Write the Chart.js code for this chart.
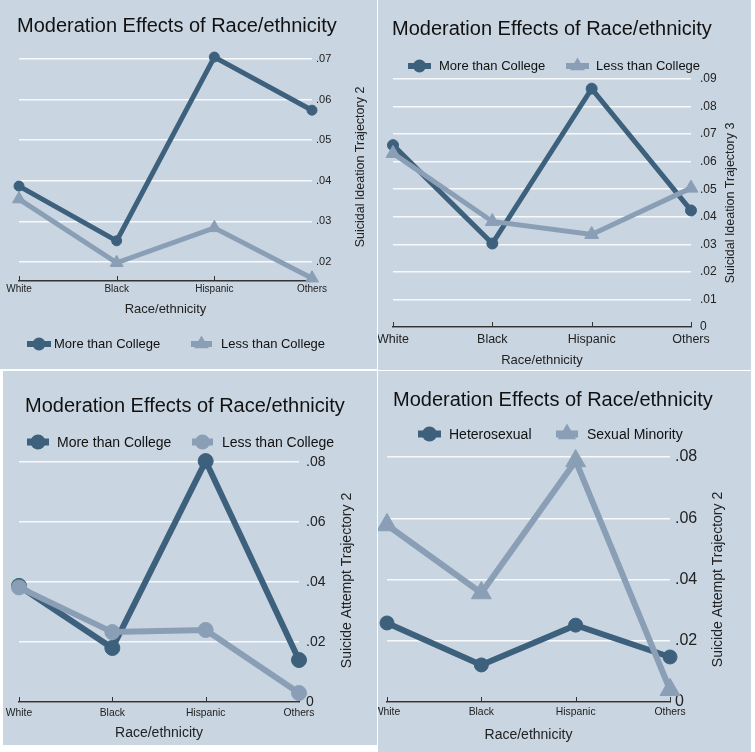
<!DOCTYPE html>
<html>
<head>
<meta charset="utf-8">
<script src="https://cdn.jsdelivr.net/npm/chart.js@4.4.1/dist/chart.umd.min.js"></script>
<style>
body { margin: 0; background: #fff; width: 755px; height: 752px; position: relative; overflow: hidden;
       font-family: "Liberation Sans", Arial, sans-serif; }
.panel { position: absolute; background: #c9d5e1; overflow: hidden; }
.panel canvas { position: absolute; left: 0; top: 0; }
.title { position: absolute; font-size: 20px; line-height: 24px; color: #111; white-space: nowrap; }
.leg-text { position: absolute; line-height: 20px; color: #111; white-space: nowrap; }
.leg-icon { position: absolute; }
</style>
</head>
<body>
<script>
const categories = ['White', 'Black', 'Hispanic', 'Others'];

// Suicidal ideation trajectory 2 (education)
const ideation2More = [0.0387, 0.0252, 0.0705, 0.0574];
const ideation2Less = [0.0355, 0.0198, 0.0284, 0.0160];
// Suicidal ideation trajectory 3 (education)
const ideation3More = [0.0660, 0.0303, 0.0865, 0.0423];
const ideation3Less = [0.0630, 0.0383, 0.0336, 0.0504];
// Suicide attempt trajectory 2 (education)
const attempt2More = [0.0387, 0.0180, 0.0803, 0.0140];
const attempt2Less = [0.0382, 0.0233, 0.0240, 0.0030];
// Suicide attempt trajectory 2 (sexual orientation)
const attempt2Hetero = [0.0258, 0.0121, 0.0251, 0.0147];
const attempt2Minority = [0.0578, 0.0356, 0.0787, 0.0040];

const ideation2Ticks = [0.02, 0.03, 0.04, 0.05, 0.06, 0.07];
const ideation3Ticks = [0, 0.01, 0.02, 0.03, 0.04, 0.05, 0.06, 0.07, 0.08, 0.09];
const attempt2Ticks = [0, 0.02, 0.04, 0.06, 0.08];

const chartTitle = 'Moderation Effects of Race/ethnicity';
const xTitle = 'Race/ethnicity';

const DARK = '#3d607c';
const LIGHT = '#8a9fb5';
const FONT = '"Liberation Sans", Arial, sans-serif';

Chart.defaults.font.family = FONT;
Chart.defaults.color = '#222';

function fmtTick(v) {
    return v === 0 ? '0' : v.toFixed(2).replace(/^0/, '');
}

// y axis title reading bottom to top, right of the plot
const yTitlePlugin = {
    id: 'yTitle',
    afterDraw(chart, args, opts) {
        const { ctx, chartArea } = chart;
        ctx.save();
        ctx.translate(chartArea.right + opts.offset, (chartArea.top + chartArea.bottom) / 2);
        ctx.rotate(-Math.PI / 2);
        ctx.font = opts.size + 'px ' + FONT;
        ctx.fillStyle = '#222';
        ctx.textAlign = 'center';
        ctx.textBaseline = 'middle';
        ctx.fillText(opts.text, 0, 0);
        ctx.restore();
    }
};

// small tick marks pointing up from the x axis line
const upTicksPlugin = {
    id: 'upTicks',
    beforeDatasetsDraw(chart) {
        const { ctx, chartArea } = chart;
        const xs = chart.scales.x;
        ctx.save();
        ctx.strokeStyle = '#333';
        ctx.lineWidth = 1;
        xs.ticks.forEach((t, i) => {
            const px = Math.round(xs.getPixelForTick(i)) + 0.5;
            ctx.beginPath();
            ctx.moveTo(px, chartArea.bottom);
            ctx.lineTo(px, chartArea.bottom - 5);
            ctx.stroke();
        });
        ctx.restore();
    }
};

const panels = [
    {
        box: { left: 0, top: 0, w: 377, h: 369 },
        title: { x: 17, cy: 25 },
        pad: { left: 19, top: 53, bottom: 50 }, yWidth: 65, xHeight: 38,
        xTickPad: 2, xTickSize: 10, xTitleSize: 13,
        yTickSize: 11, yTickPad: 4,
        yTitle: { text: 'Suicidal Ideation Trajectory 2', offset: 49, size: 12.5 },
        min: 0.0153, max: 0.0715, ticks: ideation2Ticks,
        series: [
            { label: 'More than College', data: ideation2More, color: DARK, style: 'circle', r: 5, w: 5 },
            { label: 'Less than College', data: ideation2Less, color: LIGHT, style: 'triangle', r: 7.5, w: 5 }
        ],
        legend: { cy: 344, size: 13, icons: [{ x: 27, w: 24, r: 6.5 }, { x: 191, w: 21, r: 8.5 }], text: [54, 221] }
    },
    {
        box: { left: 378, top: 0, w: 373, h: 370 },
        title: { x: 14, cy: 28 },
        pad: { left: 15, top: 79, bottom: 0 }, yWidth: 60, xHeight: 43,
        xTickPad: 5, xTickSize: 12.5, xTitleSize: 13,
        yTickSize: 12, yTickPad: 9,
        yTitle: { text: 'Suicidal Ideation Trajectory 3', offset: 40, size: 12.5 },
        min: 0, max: 0.09, ticks: ideation3Ticks,
        series: [
            { label: 'More than College', data: ideation3More, color: DARK, style: 'circle', r: 5.5, w: 5 },
            { label: 'Less than College', data: ideation3Less, color: LIGHT, style: 'triangle', r: 8, w: 5 }
        ],
        legend: { cy: 66, size: 13, icons: [{ x: 30, w: 23, r: 6.5 }, { x: 188, w: 23, r: 8.5 }], text: [61, 218] }
    },
    {
        box: { left: 3, top: 371, w: 374, h: 374 },
        title: { x: 22, cy: 34 },
        pad: { left: 16, top: 88, bottom: 1 }, yWidth: 78, xHeight: 42,
        xTickPad: 5, xTickSize: 10.3, xTitleSize: 14,
        yTickSize: 14, yTickPad: 7,
        yTitle: { text: 'Suicide Attempt Trajectory 2', offset: 48, size: 14 },
        min: 0, max: 0.081, ticks: attempt2Ticks,
        series: [
            { label: 'More than College', data: attempt2More, color: DARK, style: 'circle', r: 7.5, w: 6 },
            { label: 'Less than College', data: attempt2Less, color: LIGHT, style: 'circle', r: 7.5, w: 6 }
        ],
        legend: { cy: 71, size: 14, icons: [{ x: 24, w: 22, r: 7.5 }, { x: 189, w: 21, r: 7.5 }], text: [54, 219] }
    },
    {
        box: { left: 378, top: 371, w: 373, h: 381 },
        title: { x: 15, cy: 28 },
        pad: { left: 9, top: 86, bottom: 6 }, yWidth: 81, xHeight: 44,
        xTickPad: 4, xTickSize: 10.4, xTitleSize: 14,
        yTickSize: 16, yTickPad: 5,
        yTitle: { text: 'Suicide Attempt Trajectory 2', offset: 48, size: 14 },
        min: 0, max: 0.08, ticks: attempt2Ticks,
        series: [
            { label: 'Heterosexual', data: attempt2Hetero, color: DARK, style: 'circle', r: 7, w: 6 },
            { label: 'Sexual Minority', data: attempt2Minority, color: LIGHT, style: 'triangle', r: 11.5, w: 6 }
        ],
        legend: { cy: 63, size: 14, icons: [{ x: 40, w: 23, r: 7.5 }, { x: 178, w: 22, r: 10.5 }], text: [71, 209] }
    }
];

function drawLegendIcon(cv, s, icon) {
    const ctx = cv.getContext('2d');
    const h = cv.height;
    ctx.strokeStyle = s.color;
    ctx.fillStyle = s.color;
    ctx.lineWidth = s.w + 1;
    ctx.beginPath();
    ctx.moveTo(0, h / 2);
    ctx.lineTo(cv.width, h / 2);
    ctx.stroke();
    const cx = cv.width / 2, cy = h / 2, r = icon.r;
    ctx.beginPath();
    if (s.style === 'triangle') {
        for (let k = 0; k < 3; k++) {
            const a = -Math.PI / 2 + k * 2 * Math.PI / 3;
            const px = cx + r * Math.cos(a), py = cy + r * Math.sin(a);
            if (k === 0) ctx.moveTo(px, py); else ctx.lineTo(px, py);
        }
        ctx.closePath();
    } else {
        ctx.arc(cx, cy, r, 0, Math.PI * 2);
    }
    ctx.fill();
}

panels.forEach(p => {
    const div = document.createElement('div');
    div.className = 'panel';
    div.style.left = p.box.left + 'px';
    div.style.top = p.box.top + 'px';
    div.style.width = p.box.w + 'px';
    div.style.height = p.box.h + 'px';
    document.body.appendChild(div);

    const canvas = document.createElement('canvas');
    canvas.width = p.box.w;
    canvas.height = p.box.h;
    div.appendChild(canvas);

    const t = document.createElement('div');
    t.className = 'title';
    t.textContent = chartTitle;
    t.style.left = p.title.x + 'px';
    t.style.top = (p.title.cy - 12) + 'px';
    div.appendChild(t);

    const datasets = p.series.map((s, i) => ({
        label: s.label,
        data: s.data,
        borderColor: s.color,
        backgroundColor: s.color,
        pointBackgroundColor: s.color,
        pointBorderColor: s.color,
        pointBorderWidth: 1,
        borderWidth: s.w,
        pointRadius: s.r,
        pointStyle: s.style,
        tension: 0,
        clip: false,
        order: p.series.length - i
    }));

    const chart = new Chart(canvas, {
        type: 'line',
        data: { labels: categories, datasets: datasets },
        plugins: [yTitlePlugin, upTicksPlugin],
        options: {
            responsive: false,
            animation: false,
            layout: { autoPadding: false, padding: { left: p.pad.left, top: p.pad.top, right: 0, bottom: p.pad.bottom } },
            plugins: {
                legend: { display: false },
                tooltip: { enabled: false },
                title: { display: false },
                yTitle: p.yTitle
            },
            scales: {
                x: {
                    type: 'category',
                    offset: false,
                    afterFit: s => { s.height = p.xHeight; s.paddingLeft = 0; s.paddingRight = 0; },
                    grid: { display: true, drawOnChartArea: false, drawTicks: false },
                    border: { display: true, color: '#333', width: 1.5 },
                    ticks: { padding: p.xTickPad, font: { size: p.xTickSize }, color: '#222', maxRotation: 0, autoSkip: false },
                    title: { display: true, text: xTitle, font: { size: p.xTitleSize }, color: '#222', padding: { top: 0, bottom: 2 } }
                },
                y: {
                    position: 'right',
                    min: p.min,
                    max: p.max,
                    afterFit: s => { s.width = p.yWidth; s.paddingTop = 0; s.paddingBottom = 0; },
                    afterBuildTicks: s => { s.ticks = p.ticks.map(v => ({ value: v })); },
                    grid: { color: '#f7f9fb', lineWidth: 1.5, drawTicks: false },
                    border: { display: false },
                    ticks: { padding: p.yTickPad, font: { size: p.yTickSize }, color: '#222', callback: v => fmtTick(v) }
                }
            }
        }
    });

    // legend built from the chart's datasets
    chart.data.datasets.forEach((ds, i) => {
        const s = p.series[i];
        const icon = p.legend.icons[i];
        const cv = document.createElement('canvas');
        cv.className = 'leg-icon';
        cv.width = icon.w;
        cv.height = 24;
        cv.style.left = icon.x + 'px';
        cv.style.top = (p.legend.cy - 12) + 'px';
        drawLegendIcon(cv, s, icon);
        div.appendChild(cv);

        const lt = document.createElement('div');
        lt.className = 'leg-text';
        lt.textContent = ds.label;
        lt.style.fontSize = p.legend.size + 'px';
        lt.style.left = p.legend.text[i] + 'px';
        lt.style.top = (p.legend.cy - 10) + 'px';
        div.appendChild(lt);
    });
});
</script>
</body>
</html>
